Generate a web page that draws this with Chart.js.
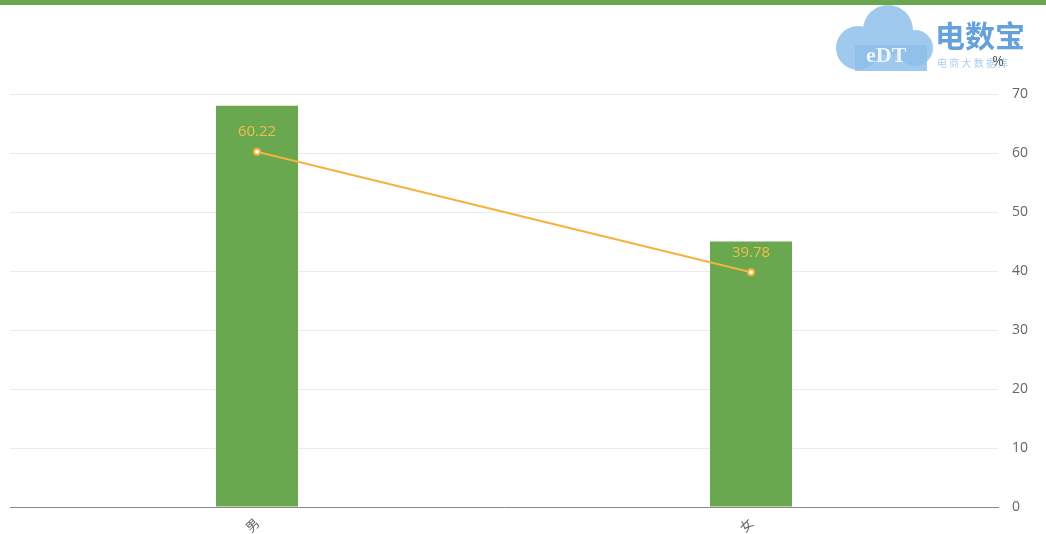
<!DOCTYPE html>
<html>
<head>
<meta charset="utf-8">
<script src="https://cdn.jsdelivr.net/npm/chart.js@4.4.0/dist/chart.umd.min.js"></script>
<style>
  html, body { margin: 0; padding: 0; background: #fff; }
  #topbar { position: absolute; left: 0; top: 0; width: 1046px; height: 5px; background: #6aa84f; }
  #wrap { position: absolute; left: 0; top: 0; width: 1046px; height: 534px; }
</style>
</head>
<body>
<div id="wrap"><canvas id="myChart" width="1046" height="534"></canvas></div>
<div id="topbar"></div>
<script>
const categories = ['男', '女'];
const barValues = [68, 45];
const lineValues = [60.22, 39.78];
const yTicks = [0, 10, 20, 30, 40, 50, 60, 70];

const green = '#6aa84f';
const orange = '#f5b23d';

// labels on top of line points + "%" unit + watermark
const extras = {
  id: 'extras',
  afterDatasetsDraw(chart) {
    const ctx = chart.ctx;
    const meta = chart.getDatasetMeta(1);
    ctx.save();
    ctx.font = '15px "Open Sans", "Noto Sans", sans-serif';
    ctx.fillStyle = '#f3bd4a';
    ctx.textAlign = 'center';
    ctx.textBaseline = 'bottom';
    meta.data.forEach((pt, i) => {
      ctx.fillText(lineValues[i].toFixed(2), pt.x, pt.y - 12);
    });
    ctx.restore();
  },
  afterDraw(chart) {
    const ctx = chart.ctx;
    const area = chart.chartArea;
    ctx.save();
    // watermark (cloud logo)
    ctx.globalAlpha = 0.85;
    ctx.fillStyle = '#8fc1ea';
    ctx.beginPath();
    ctx.arc(858, 48, 22, 0, Math.PI * 2);
    ctx.arc(888, 30, 25, 0, Math.PI * 2);
    ctx.arc(915, 48, 18, 0, Math.PI * 2);
    ctx.fill();
    ctx.fillRect(855, 45, 72, 26);
    ctx.fillStyle = '#4a90d6';
    ctx.font = 'bold 30px "Noto Sans CJK SC", sans-serif';
    ctx.textAlign = 'left';
    ctx.textBaseline = 'middle';
    ctx.fillText('电数宝', 935, 36);
    ctx.font = '10px "Noto Sans CJK SC", sans-serif';
    ctx.fillStyle = '#9cc4e6';
    ctx.fillText('电 商 大 数 据 库', 937, 63);
    ctx.fillStyle = '#ffffff';
    ctx.font = 'bold 22px "Liberation Serif", serif';
    ctx.fillText('eDT', 866, 56);
    ctx.globalAlpha = 1;
    // unit
    ctx.fillStyle = '#555';
    ctx.font = '14px "Open Sans", "Noto Sans", sans-serif';
    ctx.textAlign = 'center';
    ctx.fillText('%', area.right, 62);
    ctx.restore();
  }
};

new Chart(document.getElementById('myChart'), {
  data: {
    labels: categories,
    datasets: [
      {
        type: 'bar',
        data: barValues,
        backgroundColor: green,
        barPercentage: 1,
        categoryPercentage: 0.166,
        order: 2
      },
      {
        type: 'line',
        data: lineValues,
        borderColor: orange,
        backgroundColor: '#fff',
        borderWidth: 2,
        pointRadius: 3,
        pointBorderWidth: 2,
        pointBorderColor: orange,
        pointBackgroundColor: '#fff',
        tension: 0,
        order: 1
      }
    ]
  },
  plugins: [extras],
  options: {
    responsive: false,
    animation: false,
    layout: { padding: { left: 10, top: 94, right: 0, bottom: 0 } },
    plugins: {
      legend: { display: false },
      tooltip: { enabled: false }
    },
    scales: {
      x: {
        grid: { display: false },
        border: { color: '#888', width: 1 },
        afterFit(scale) { scale.height = 27; },
        ticks: {
          color: '#666',
          font: { size: 13, family: '"Noto Sans CJK SC", sans-serif' },
          maxRotation: 45,
          minRotation: 45,
          padding: 0
        }
      },
      y: {
        position: 'right',
        min: 0,
        max: 70,
        afterBuildTicks(scale) {
          scale.ticks = yTicks.map(v => ({ value: v }));
        },
        afterFit(scale) { scale.width = 48; },
        grid: { color: '#ebebeb', drawTicks: false },
        border: { display: false },
        ticks: {
          color: '#666',
          padding: 14,
          font: { size: 14, family: '"Open Sans", "Noto Sans", sans-serif' }
        }
      }
    }
  }
});
</script>
</body>
</html>
